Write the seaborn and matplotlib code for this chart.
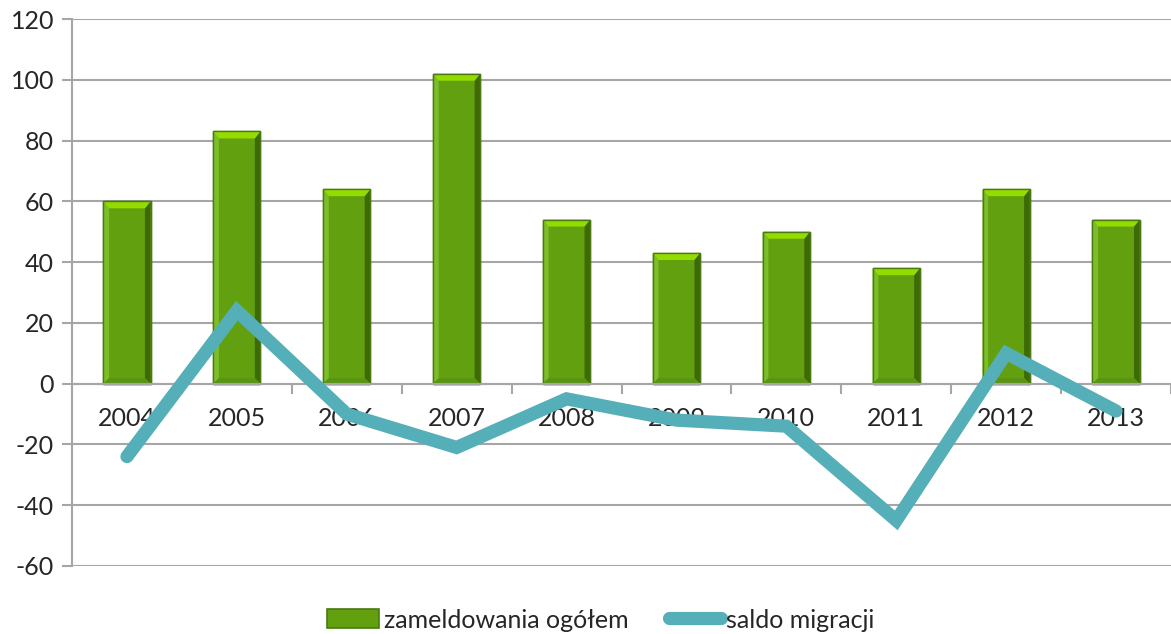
import matplotlib
matplotlib.use("Agg")
import matplotlib.pyplot as plt
import seaborn as sns
import pandas as pd
from matplotlib.patches import Patch, Polygon, Rectangle
from matplotlib.lines import Line2D

years = ["2004", "2005", "2006", "2007", "2008", "2009", "2010", "2011", "2012", "2013"]
zameldowania = [60, 83, 64, 102, 54, 43, 50, 38, 64, 54]
saldo = [-24, 24, -10, -21, -5, -12, -14, -45, 10, -9]
yticks = [-60, -40, -20, 0, 20, 40, 60, 80, 100, 120]

sns.set_theme(style="white")
plt.rcParams['font.family'] = ['Lato', 'DejaVu Sans']

df = pd.DataFrame({"rok": years, "zameldowania": zameldowania, "saldo": saldo})

BAR = "#62a010"
BAR_EDGE = "#4a7a12"
CAP = "#94dc00"
DARK = "#3e6a06"
LIGHT = "#7cbd2a"
LINE = "#55afb8"
GRID = "#a6a6a6"

fig = plt.figure(figsize=(11.71, 6.34), dpi=100)
ax = fig.add_axes([0.0615, 0.1073, 0.9385, 0.8627])

sns.barplot(data=df, x="rok", y="zameldowania", color=BAR, width=0.43,
            edgecolor=BAR_EDGE, linewidth=1.0, saturation=1, ax=ax, zorder=2)

# bevel decoration derived from each drawn bar
bars = [p for p in ax.patches if isinstance(p, Rectangle)]
for p in bars:
    x0, w, h = p.get_x(), p.get_width(), p.get_height()
    b = w * 0.12
    cap_h = 2.3
    ax.add_patch(Polygon([(x0, h), (x0 + w, h), (x0 + w - b, h - cap_h), (x0 + b, h - cap_h)],
                         closed=True, facecolor=CAP, edgecolor="none", zorder=2.2))
    ax.add_patch(Polygon([(x0 + w, h), (x0 + w, 0), (x0 + w - b, cap_h * 0.8), (x0 + w - b, h - cap_h)],
                         closed=True, facecolor=DARK, edgecolor="none", zorder=2.1))
    ax.add_patch(Polygon([(x0, h), (x0, 0), (x0 + b, cap_h * 0.8), (x0 + b, h - cap_h)],
                         closed=True, facecolor=LIGHT, edgecolor="none", zorder=2.1))
    ax.add_patch(Polygon([(x0, 0), (x0 + w, 0), (x0 + w - b, cap_h * 0.8), (x0 + b, cap_h * 0.8)],
                         closed=True, facecolor="#5a9414", edgecolor="none", zorder=2.1))
    ax.add_patch(Rectangle((x0, 0), w, h, facecolor="none", edgecolor=BAR_EDGE,
                           linewidth=1.0, zorder=2.3))

sns.pointplot(data=df, x="rok", y="saldo", color=LINE, markers="", linewidth=9.5,
              ax=ax, zorder=3)
for ln in ax.lines:
    ln.set_solid_capstyle("round")
    ln.set_solid_joinstyle("miter")

ax.set_ylim(-60, 120)
ax.set_xlim(-0.5, len(years) - 0.5)
ax.set_yticks(yticks)
ax.set_yticklabels([str(v) for v in yticks])
ax.yaxis.grid(True, color=GRID, linewidth=1.5, zorder=0)
ax.set_axisbelow(True)
ax.set_xlabel("")
ax.set_ylabel("")

for s in ["top", "right"]:
    ax.spines[s].set_visible(False)
ax.spines["left"].set_color(GRID)
ax.spines["left"].set_linewidth(1.5)
ax.spines["bottom"].set_position(("data", 0))
ax.spines["bottom"].set_color(GRID)
ax.spines["bottom"].set_linewidth(1.5)

ax.tick_params(axis="y", which="major", left=True, length=7, width=1.5, color=GRID,
               labelsize=18, labelcolor="#262626", pad=6)
ax.tick_params(axis="x", which="major", bottom=False, length=0, labelsize=18,
               labelcolor="#262626", pad=17)
ax.set_xticks([i - 0.5 for i in range(len(years) + 1)], minor=True)
ax.tick_params(axis="x", which="minor", bottom=True, length=7, width=1.5, color=GRID)

handles = [Patch(facecolor=BAR, edgecolor=BAR_EDGE, linewidth=1.2),
           Line2D([0], [0], color=LINE, linewidth=9.5, solid_capstyle="round")]
fig.legend(handles, ["zameldowania ogółem", "saldo migracji"], loc="center",
           bbox_to_anchor=(0.513, 0.022), ncol=2, frameon=False, fontsize=18,
           handlelength=2.1, handleheight=0.8, handletextpad=0.2, columnspacing=1.6,
           labelcolor="#262626")

fig.savefig("out.png", dpi=100, facecolor="white")
